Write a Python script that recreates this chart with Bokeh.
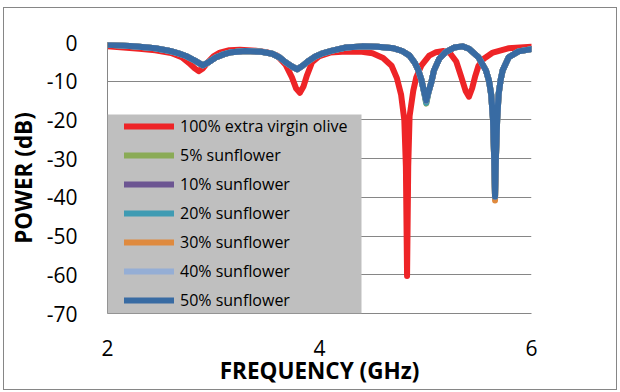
from bokeh.plotting import figure
from bokeh.models import Range1d, FixedTicker, Legend, LegendItem, BoxAnnotation
from bokeh.embed import file_html
from bokeh.resources import INLINE

# ---------------- data ----------------
x_ticks = [2, 4, 6]
y_ticks = [0, -10, -20, -30, -40, -50, -60, -70]
y_tick_labels = ["0", "-10", "-20", "-30", "-40", "-50", "-60", "-70"]

series_names = ["100% extra virgin olive", "5% sunflower", "10% sunflower",
                "20% sunflower", "30% sunflower", "40% sunflower", "50% sunflower"]

freq_olive = [2.00, 2.15, 2.30, 2.45, 2.60, 2.70, 2.77, 2.82, 2.86, 2.90,
              2.95, 3.00, 3.06, 3.15, 3.25, 3.40, 3.50, 3.60, 3.68, 3.74,
              3.78, 3.815, 3.85, 3.88, 3.93, 4.00, 4.10, 4.25, 4.40, 4.50,
              4.60, 4.68, 4.73, 4.77, 4.80, 4.815, 4.826, 4.837, 4.85, 4.885,
              4.913, 4.96, 5.035, 5.10, 5.17, 5.23, 5.29, 5.335, 5.38, 5.41,
              5.44, 5.47, 5.50, 5.55, 5.635, 5.78, 6.00]
power_olive = [-1.0, -1.3, -1.6, -2.0, -2.7, -3.8, -5.3, -6.6, -7.4, -6.7,
               -5.0, -3.6, -2.6, -2.0, -1.9, -2.1, -2.5, -3.4, -5.7, -9.0,
               -11.9, -13.0, -11.3, -8.6, -5.1, -3.5, -2.6, -2.3, -2.4, -2.8,
               -4.0, -6.0, -9.2, -13.5, -20.0, -32.0, -60.3, -32.0, -19.0, -12.4,
               -9.0, -6.0, -3.4, -2.5, -2.2, -2.7, -4.9, -8.7, -12.6, -14.0,
               -11.8, -8.6, -6.0, -4.2, -2.6, -1.5, -1.1]

freq_sf = [2.00, 2.15, 2.30, 2.45, 2.59, 2.67, 2.74, 2.82, 2.90, 2.96,
           3.02, 3.10, 3.17, 3.30, 3.45, 3.555, 3.62, 3.68, 3.74, 3.79,
           3.84, 3.90, 3.96, 4.02, 4.12, 4.25, 4.40, 4.55, 4.70, 4.78,
           4.85, 4.90, 4.93, 4.96, 4.985, 5.007, 5.03, 5.055, 5.08, 5.13,
           5.19, 5.27, 5.35, 5.41, 5.50, 5.57, 5.60, 5.62, 5.637, 5.648,
           5.656, 5.664, 5.676, 5.69, 5.71, 5.728, 5.785, 5.878, 6.00]
power_sf5 = [-0.6, -0.8, -1.1, -1.5, -2.2, -2.8, -3.5, -4.6, -5.9, -5.0,
             -3.9, -3.0, -2.5, -2.2, -2.4, -2.9, -3.8, -5.1, -6.2, -6.9,
             -6.0, -4.7, -3.6, -2.9, -2.1, -1.3, -1.0, -1.1, -1.5, -2.2,
             -3.4, -5.3, -7.0, -9.5, -12.6, -15.8, -12.7, -10.3, -7.2, -4.2,
             -2.5, -1.3, -1.0, -1.6, -3.8, -7.2, -10.0, -13.5, -20.0, -30.0,
             -39.8, -30.0, -20.0, -13.3, -9.5, -7.2, -3.8, -2.3, -1.7]
power_sf10 = [-0.6, -0.8, -1.1, -1.5, -2.2, -2.8, -3.5, -4.6, -5.9, -5.0,
              -3.9, -3.0, -2.5, -2.2, -2.4, -2.9, -3.8, -5.1, -6.2, -6.9,
              -6.0, -4.7, -3.6, -2.9, -2.1, -1.3, -1.0, -1.1, -1.5, -2.2,
              -3.4, -5.3, -7.0, -9.5, -12.5, -15.1, -12.6, -10.3, -7.2, -4.2,
              -2.5, -1.3, -1.0, -1.6, -3.8, -7.2, -10.0, -13.5, -20.0, -30.0,
              -39.9, -30.0, -20.0, -13.3, -9.5, -7.2, -3.8, -2.3, -1.7]
power_sf20 = [-0.6, -0.8, -1.1, -1.5, -2.2, -2.8, -3.5, -4.6, -5.9, -5.0,
              -3.9, -3.0, -2.5, -2.2, -2.4, -2.9, -3.8, -5.1, -6.2, -6.9,
              -6.0, -4.7, -3.6, -2.9, -2.1, -1.3, -1.0, -1.1, -1.5, -2.2,
              -3.4, -5.3, -7.0, -9.5, -12.6, -15.6, -12.7, -10.3, -7.2, -4.2,
              -2.5, -1.3, -1.0, -1.6, -3.8, -7.2, -10.0, -13.5, -20.0, -30.0,
              -40.0, -30.0, -20.0, -13.3, -9.5, -7.2, -3.8, -2.3, -1.7]
power_sf30 = [-0.6, -0.8, -1.1, -1.5, -2.2, -2.8, -3.5, -4.6, -5.9, -5.0,
              -3.9, -3.0, -2.5, -2.2, -2.4, -2.9, -3.8, -5.1, -6.2, -6.9,
              -6.0, -4.7, -3.6, -2.9, -2.1, -1.3, -1.0, -1.1, -1.5, -2.2,
              -3.4, -5.3, -7.0, -9.5, -12.5, -15.0, -12.6, -10.3, -7.2, -4.2,
              -2.5, -1.3, -1.0, -1.6, -3.8, -7.2, -10.0, -13.5, -20.0, -30.5,
              -40.8, -30.5, -20.0, -13.3, -9.5, -7.2, -3.8, -2.3, -1.7]
power_sf40 = [-0.6, -0.8, -1.1, -1.5, -2.2, -2.8, -3.5, -4.6, -5.9, -5.0,
              -3.9, -3.0, -2.5, -2.2, -2.4, -2.9, -3.8, -5.1, -6.2, -6.9,
              -6.0, -4.7, -3.6, -2.9, -2.1, -1.3, -1.0, -1.1, -1.5, -2.2,
              -3.4, -5.3, -7.0, -9.5, -12.5, -15.0, -12.6, -10.3, -7.2, -4.2,
              -2.5, -1.3, -1.0, -1.6, -3.8, -7.2, -10.0, -13.5, -20.0, -30.0,
              -39.8, -30.0, -20.0, -13.3, -9.5, -7.2, -3.8, -2.3, -1.7]
power_sf50 = [-0.6, -0.8, -1.1, -1.5, -2.2, -2.8, -3.5, -4.6, -5.9, -5.0,
              -3.9, -3.0, -2.5, -2.2, -2.4, -2.9, -3.8, -5.1, -6.2, -6.9,
              -6.0, -4.7, -3.6, -2.9, -2.1, -1.3, -1.0, -1.1, -1.5, -2.2,
              -3.4, -5.3, -7.0, -9.5, -12.5, -15.0, -12.6, -10.3, -7.2, -4.2,
              -2.5, -1.3, -1.0, -1.6, -3.8, -7.2, -10.0, -13.5, -20.0, -30.0,
              -39.8, -30.0, -20.0, -13.3, -9.5, -7.2, -3.8, -2.3, -1.7]

colors = ["#ee2427", "#8aab56", "#6c5592", "#3f9bb3", "#df8a3e", "#95aed5", "#386ba3"]

# ---------------- figure ----------------
FONT = "Open Sans"
GRID = "#868686"

# the figure sits inside the grey chart border (4px left, 8px top margin)
p = figure(width=612, height=381, output_backend="svg", toolbar_location=None,
           x_range=Range1d(2, 6), y_range=Range1d(-70, 0),
           min_border_left=100, min_border_right=85,
           min_border_top=34, min_border_bottom=76)
p.margin = (8, 4, 3, 4)
p.styles = {"outline": "1px solid #868686"}
p.outline_line_color = None
p.background_fill_color = "white"
p.border_fill_color = "white"

p.xgrid.grid_line_color = None
p.ygrid.grid_line_color = GRID
p.ygrid.grid_line_width = 1
p.ygrid.ticker = FixedTicker(ticks=y_ticks)

p.xaxis.ticker = FixedTicker(ticks=x_ticks)
p.yaxis.ticker = FixedTicker(ticks=y_ticks)
p.yaxis.major_label_overrides = {t: s for t, s in zip(y_ticks, y_tick_labels)}
p.xaxis.major_label_overrides = {t: str(t) for t in x_ticks}

for ax in (p.xaxis[0], p.yaxis[0]):
    ax.axis_line_color = GRID
    ax.axis_line_width = 1
    ax.major_tick_line_color = None
    ax.minor_tick_line_color = None
    ax.major_label_text_font = FONT
    ax.major_label_text_font_size = "21px"
    ax.major_label_text_color = "black"
    ax.axis_label_text_font = FONT
    ax.axis_label_text_font_size = "22.5px"
    ax.axis_label_text_font_style = "bold"
    ax.axis_label_text_color = "black"

p.xaxis.axis_label = "FREQUENCY (GHz)"
p.yaxis.axis_label = "POWER (dB)"
p.yaxis.major_label_standoff = 24
p.yaxis.axis_label_standoff = 5
p.xaxis.major_label_standoff = 20
p.xaxis.axis_label_standoff = -4

# ---------------- lines ----------------
xs = [freq_olive] + [freq_sf] * 6
ys = [power_olive, power_sf5, power_sf10, power_sf20, power_sf30, power_sf40, power_sf50]
renderers = []
for x, y, c in zip(xs, ys, colors):
    r = p.line(x, y, line_color=c, line_width=6, line_cap="round", line_join="round")
    renderers.append(r)

# legend background (grey box)
legend_bg = BoxAnnotation(left=103, right=357, top=106, bottom=305,
                          left_units="canvas", right_units="canvas",
                          top_units="canvas", bottom_units="canvas",
                          fill_color="#bfbfbf", fill_alpha=1.0, line_color=None)
p.add_layout(legend_bg)

legend = Legend(items=[LegendItem(label=n, renderers=[r]) for n, r in zip(series_names, renderers)],
                location=(17, 2), margin=0, padding=0, spacing=7,
                glyph_width=50, glyph_height=22, label_height=22, label_standoff=6,
                label_text_font=FONT, label_text_font_size="16px", label_text_color="black",
                background_fill_alpha=0, border_line_color=None)
p.add_layout(legend)

open("out.html", "w").write(file_html(p, INLINE))
